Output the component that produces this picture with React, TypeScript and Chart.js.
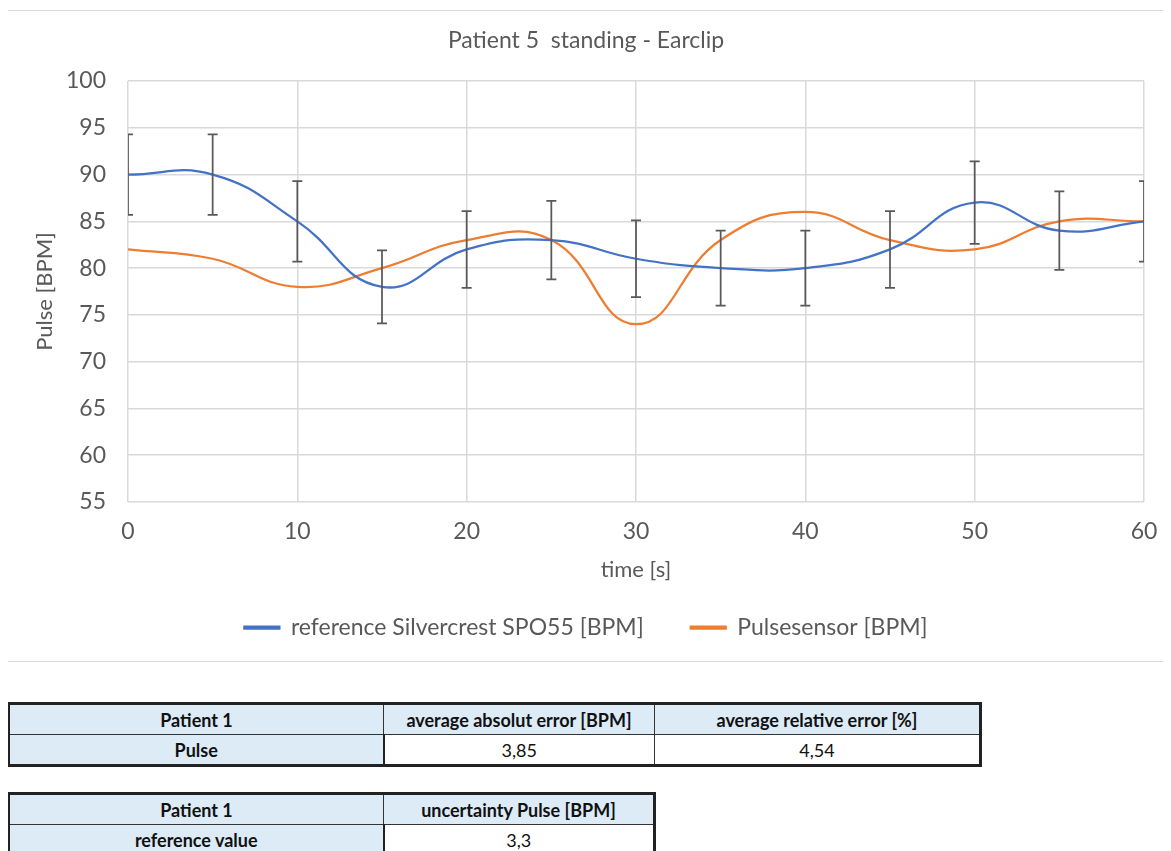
import React, { useEffect, useRef } from "react";
import { Chart, registerables } from "chart.js";

Chart.register(...registerables);

const times = [0, 5, 10, 15, 20, 25, 30, 35, 40, 45, 50, 55, 60];
const referenceBpm = [90, 90, 85, 78, 82, 83, 81, 80, 80, 82, 87, 84, 85];
const sensorBpm = [82, 81, 78, 80, 83, 83, 74, 83, 86, 83, 82, 85, 85];
const referenceError = [4.3, 4.3, 4.3, 3.9, 4.1, 4.2, 4.1, 4.0, 4.0, 4.1, 4.4, 4.2, 4.3];

const chartTitle = "Patient 5  standing - Earclip";
const seriesNames = ["reference Silvercrest SPO55 [BPM]", "Pulsesensor [BPM]"];
const xTitle = "time [s]";
const yTitle = "Pulse [BPM]";

const table1Header = ["Patient 1", "average absolut error [BPM]", "average relative error [%]"];
const table1Row = ["Pulse", "3,85", "4,54"];
const table2Header = ["Patient 1", "uncertainty Pulse [BPM]"];
const table2Row = ["reference value", "3,3"];

const FONT = "Lato, 'Open Sans', sans-serif";
const TEXT = "#595959";

const errorBarPlugin = {
  id: "errorBars",
  afterDatasetsDraw(chart: any) {
    const { ctx, chartArea, scales } = chart;
    const xs = scales.x;
    const ys = scales.y;
    ctx.save();
    ctx.beginPath();
    ctx.rect(chartArea.left, chartArea.top - 10, chartArea.right - chartArea.left, chartArea.bottom - chartArea.top + 20);
    ctx.clip();
    ctx.strokeStyle = "#595959";
    ctx.lineWidth = 1.75;
    const cap = 5;
    times.forEach((t, i) => {
      const x = xs.getPixelForValue(t);
      const yTop = ys.getPixelForValue(referenceBpm[i] + referenceError[i]);
      const yBot = ys.getPixelForValue(referenceBpm[i] - referenceError[i]);
      ctx.beginPath();
      ctx.moveTo(x, yTop);
      ctx.lineTo(x, yBot);
      ctx.moveTo(x - cap, yTop);
      ctx.lineTo(x + cap, yTop);
      ctx.moveTo(x - cap, yBot);
      ctx.lineTo(x + cap, yBot);
      ctx.stroke();
    });
    ctx.restore();
  },
};

const cellBase: React.CSSProperties = {
  border: "1px solid #333",
  textAlign: "center",
  fontFamily: "Lato, sans-serif",
  fontSize: 18,
  color: "#111",
  padding: 0,
  height: 29,
};

export default function App() {
  const canvasRef = useRef<HTMLCanvasElement | null>(null);

  useEffect(() => {
    const canvas = canvasRef.current;
    if (!canvas) return;
    const chart = new Chart(canvas, {
      type: "line",
      data: {
        datasets: [
          {
            label: seriesNames[0],
            data: times.map((t, i) => ({ x: t, y: referenceBpm[i] })),
            borderColor: "#4472c4",
            backgroundColor: "#4472c4",
            borderWidth: 2.25,
            pointRadius: 0,
            tension: 0.45,
          },
          {
            label: seriesNames[1],
            data: times.map((t, i) => ({ x: t, y: sensorBpm[i] })),
            borderColor: "#ed7d31",
            backgroundColor: "#ed7d31",
            borderWidth: 2.25,
            pointRadius: 0,
            tension: 0.45,
          },
        ],
      },
      options: {
        animation: false,
        responsive: false,
        layout: { padding: { left: 20, right: 34, top: 8, bottom: 12 } },
        plugins: {
          title: {
            display: true,
            text: chartTitle,
            color: TEXT,
            font: { family: FONT, size: 23, weight: "normal" },
            padding: { top: 8, bottom: 26.4 },
          },
          legend: {
            position: "bottom",
            labels: {
              color: TEXT,
              font: { family: FONT, size: 23 },
              boxWidth: 35,
              boxHeight: 2,
              padding: 47,
            },
          },
          tooltip: { enabled: false },
        },
        scales: {
          x: {
            type: "linear",
            min: 0,
            max: 60,
            ticks: { stepSize: 10, color: TEXT, font: { family: FONT, size: 23 }, padding: 16, maxRotation: 0 },
            grid: { color: "#d9d9d9", lineWidth: 1.5, drawTicks: false },
            border: { display: false },
            title: { display: true, text: xTitle, color: TEXT, font: { family: FONT, size: 22 }, padding: { top: 0, bottom: -14 } },
            afterFit: (scale: any) => {
              scale.height = 67;
            },
          },
          y: {
            min: 55,
            max: 100,
            ticks: { stepSize: 5, color: TEXT, font: { family: FONT, size: 23 }, padding: 22 },
            grid: { color: "#d9d9d9", lineWidth: 1.5, drawTicks: false },
            border: { display: false },
            title: { display: true, text: yTitle, color: TEXT, font: { family: FONT, size: 22 }, padding: { top: 4, bottom: 0 } },
            afterFit: (scale: any) => {
              scale.width = 100;
            },
          },
        },
      },
      plugins: [errorBarPlugin],
    } as any);
    return () => chart.destroy();
  }, []);

  const blue = "#ddebf7";

  const renderRow = (cells: string[], header: boolean) =>
    cells.map((h, i) => (
      <td
        key={i}
        style={{
          ...cellBase,
          background: header || i === 0 ? blue : "#fff",
          fontWeight: header || i === 0 ? 700 : 400,
          borderRight: !header && i === 0 ? "2px solid #222" : cellBase.border,
        }}
      >
        {h}
      </td>
    ));

  return (
    <div style={{ position: "relative", width: 1171, height: 851 }}>
      <div
        style={{
          position: "absolute",
          left: -1,
          top: 2,
          width: 1172,
          height: 652,
          border: "1px solid #d9d9d9",
          boxSizing: "border-box",
          background: "#fff",
        }}
      >
        <canvas ref={canvasRef} width={1170} height={650} style={{ display: "block" }} />
      </div>
      <table
        style={{
          position: "absolute",
          left: -1,
          top: 694,
          width: 972,
          borderCollapse: "collapse",
          border: "3px solid #222",
          tableLayout: "fixed",
        }}
      >
        <colgroup>
          <col style={{ width: 375 }} />
          <col style={{ width: 271 }} />
          <col style={{ width: 326 }} />
        </colgroup>
        <tbody>
          <tr>{renderRow(table1Header, true)}</tr>
          <tr>{renderRow(table1Row, false)}</tr>
        </tbody>
      </table>
      <table
        style={{
          position: "absolute",
          left: -1,
          top: 784,
          width: 646,
          borderCollapse: "collapse",
          border: "3px solid #222",
          tableLayout: "fixed",
        }}
      >
        <colgroup>
          <col style={{ width: 375 }} />
          <col style={{ width: 271 }} />
        </colgroup>
        <tbody>
          <tr>{renderRow(table2Header, true)}</tr>
          <tr>{renderRow(table2Row, false)}</tr>
        </tbody>
      </table>
    </div>
  );
}
